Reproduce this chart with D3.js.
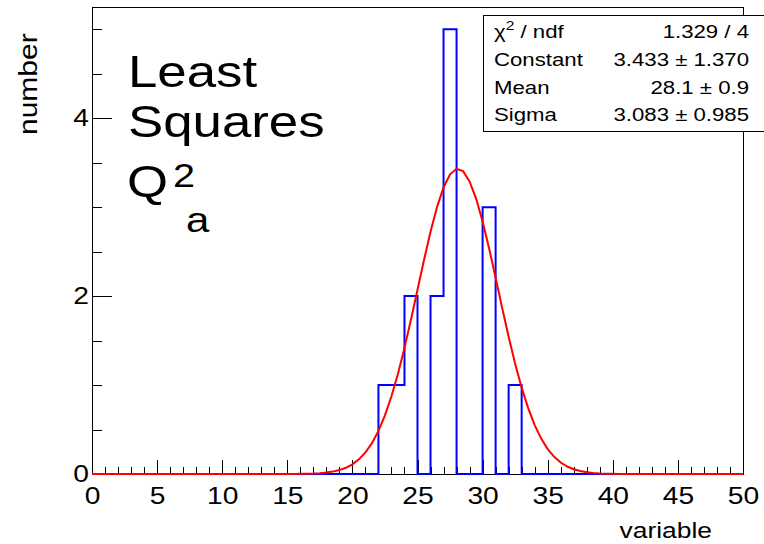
<!DOCTYPE html>
<html><head><meta charset="utf-8">
<script src="https://cdn.jsdelivr.net/npm/d3@7"></script>
<style>
body{margin:0;background:#fff}
svg{display:block}
text{font-family:"Liberation Sans",Arial,Helvetica,sans-serif;fill:#000}
</style>
</head><body>
<svg id="c" width="764" height="544"></svg>
<script>
// ---- data ----
const binLow = 0, binHigh = 50;
const binCounts = [
  0,0,0,0,0,0,0,0,0,0,
  0,0,0,0,0,0,0,0,0,0,
  0,0,1,1,2,0,2,5,0,0,
  3,0,1,0,0,0,0,0,0,0,
  0,0,0,0,0,0,0,0,0,0
];
const fitConstant = 3.433, fitMean = 28.1, fitSigma = 3.083;
const statLabels = ["χ2 / ndf", "Constant", "Mean", "Sigma"];
const statValues = ["1.329 / 4", "3.433 ± 1.370", "28.1 ± 0.9", "3.083 ± 0.985"];
const xMajorTicks = [0,5,10,15,20,25,30,35,40,45,50];
const yMajorTicks = [0,2,4];
const xTitle = "variable", yTitle = "number";
const titleLines = ["Least", "Squares"];

// ---- layout ----
const W = 764, H = 544;
const fL = 92, fR = 743, fT = 7, fB = 474;
const SX = 1.2; // horizontal glyph stretch
const svg = d3.select("#c");
svg.append("rect").attr("width", W).attr("height", H).attr("fill", "#fff");

const binW = (binHigh - binLow) / binCounts.length;
const yMax = d3.max(binCounts) * 1.05;
const x = d3.scaleLinear().domain([binLow, binHigh]).range([fL, fR]);
const y = d3.scaleLinear().domain([0, yMax]).range([fB, fT]);

// frame
svg.append("rect").attr("x", fL).attr("y", fT).attr("width", fR - fL).attr("height", fB - fT)
  .attr("fill", "none").attr("stroke", "#000").attr("stroke-width", 1).attr("shape-rendering", "crispEdges");

// x axis
const xMinor = d3.range(binLow, binHigh + 0.001, 1);
const gxm = svg.append("g").attr("transform", `translate(0,${fB})`)
  .call(d3.axisBottom(x).tickValues(xMinor).tickSize(-7).tickSizeOuter(0).tickFormat(""));
const gx = svg.append("g").attr("transform", `translate(0,${fB})`)
  .call(d3.axisBottom(x).tickValues(xMajorTicks).tickSize(-14).tickSizeOuter(0).tickPadding(13).tickFormat(d3.format("d")));
// y axis
const yMinor = d3.range(0, yMax, 0.5);
const gym = svg.append("g").attr("transform", `translate(${fL},0)`)
  .call(d3.axisLeft(y).tickValues(yMinor).tickSize(-10).tickSizeOuter(0).tickFormat(""));
const gy = svg.append("g").attr("transform", `translate(${fL},0)`)
  .call(d3.axisLeft(y).tickValues(yMajorTicks).tickSize(-20).tickSizeOuter(0).tickPadding(3).tickFormat(d3.format("d")));
[gxm, gx, gym, gy].forEach(g => {
  g.select(".domain").remove();
  g.selectAll(".tick line").attr("stroke", "#000").attr("shape-rendering", "crispEdges");
});
gx.selectAll(".tick text").attr("font-size", 23.5).attr("font-family", null).attr("fill", "#000")
  .attr("transform", `scale(${SX},1)`);
gy.selectAll(".tick text").attr("font-size", 23.5).attr("font-family", null).attr("fill", "#000")
  .attr("x", 0).attr("transform", `translate(-3,0) scale(${SX},1)`);
svg.selectAll(".tick text").style("font-family", '"Liberation Sans",Arial,sans-serif');

// helper for stretched text
function stext(px, py, str, size, anchor, rot) {
  const g = svg.append("g").attr("transform", `translate(${px},${py})` + (rot ? ` rotate(${rot})` : "") + ` scale(${SX},1)`);
  return g.append("text").attr("font-size", size).attr("text-anchor", anchor || "start").text(str);
}

// axis titles
stext(712, 538, xTitle, 22, "end");
stext(37, 135, yTitle, 25, "start", -90);

// histogram outline
const histPts = [[binLow, 0]];
binCounts.forEach((c, i) => {
  const lo = binLow + i * binW, hi = lo + binW;
  histPts.push([lo, c], [hi, c]);
});
histPts.push([binHigh, 0]);
svg.append("path").datum(histPts)
  .attr("d", d3.line().x(d => x(d[0])).y(d => y(d[1])))
  .attr("fill", "none").attr("stroke", "#0000ff").attr("stroke-width", 2);

// gaussian fit function (TF1 drawn with 100 steps)
const npx = 100;
const fitPts = d3.range(npx + 1).map(i => {
  const xv = binLow + i * (binHigh - binLow) / npx;
  return [xv, fitConstant * Math.exp(-0.5 * Math.pow((xv - fitMean) / fitSigma, 2))];
});
svg.append("path").datum(fitPts)
  .attr("d", d3.line().x(d => x(d[0])).y(d => y(d[1])))
  .attr("fill", "none").attr("stroke", "#ff0000").attr("stroke-width", 2);

// big label
stext(128, 87, titleLines[0], 44, "start");
stext(128, 137, titleLines[1], 44, "start");
stext(127, 197, "Q", 44, "start");
stext(173, 187, "2", 33, "start");
stext(186, 232, "a", 35, "start");

// stats box
svg.append("rect").attr("x", 483).attr("y", 15).attr("width", 300).attr("height", 116)
  .attr("fill", "#fff").attr("stroke", "#000").attr("stroke-width", 1).attr("shape-rendering", "crispEdges");
const rowBase = [38, 66, 94, 121];
statLabels.forEach((lab, i) => {
  if (i === 0) {
    const t = stext(494, rowBase[i], "", 18.5, "start");
    t.append("tspan").text("χ");
    t.append("tspan").attr("font-size", 13).attr("dy", -8).text("2");
    t.append("tspan").attr("font-size", 18.5).attr("dy", 8).text(" / ndf");
  } else {
    stext(494, rowBase[i], lab, 18.5, "start");
  }
  stext(749, rowBase[i], statValues[i], 18.5, "end");
});
</script>
</body></html>
